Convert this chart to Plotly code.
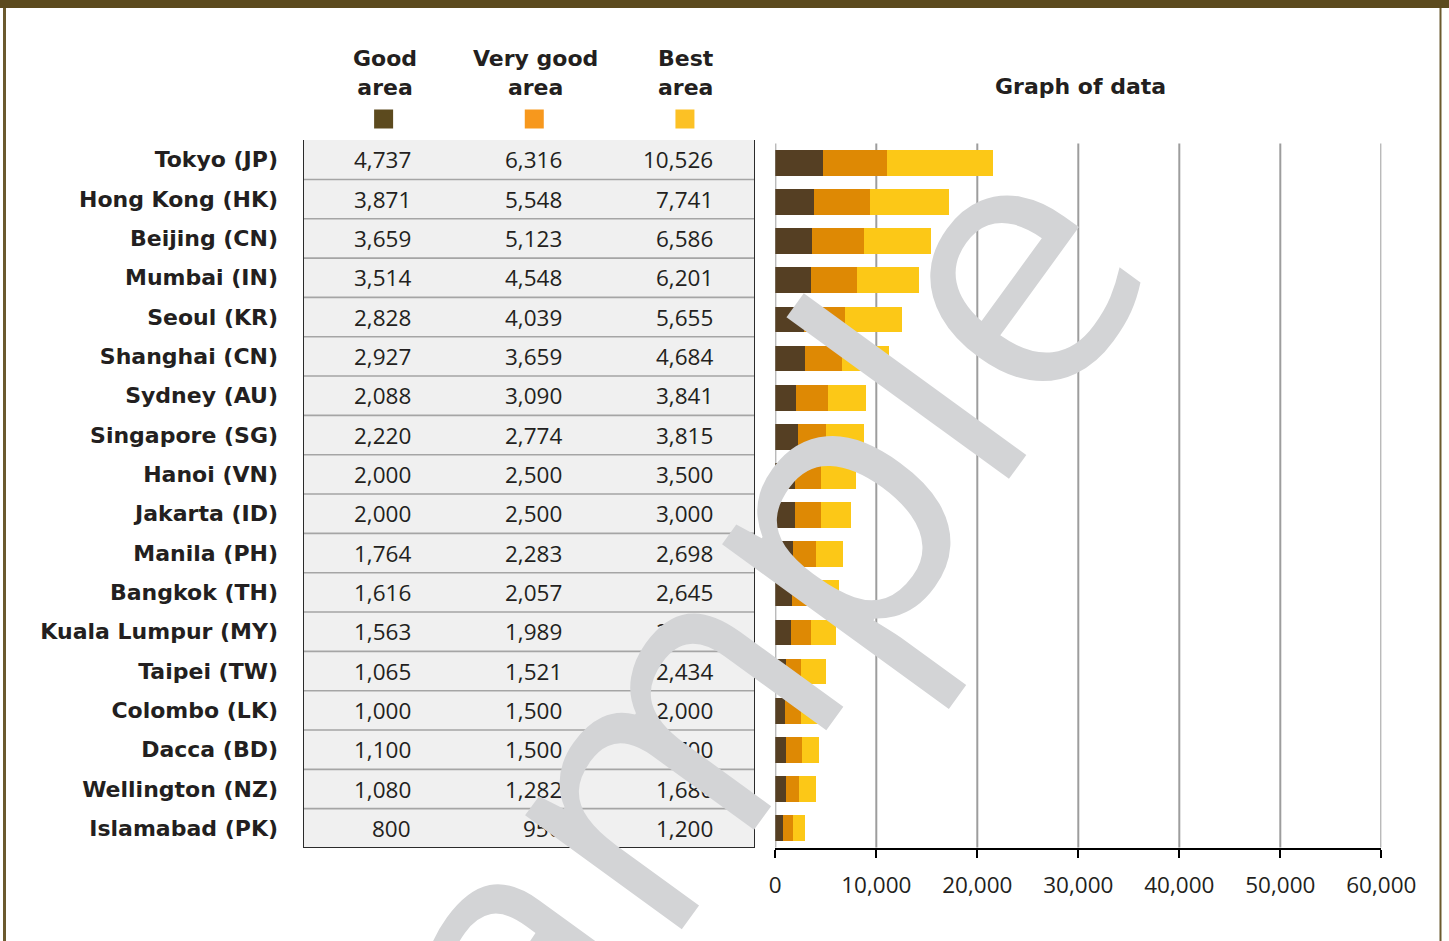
import plotly.graph_objects as go

W, H = 1449, 941

# ---------------- data ----------------
cities = ["Tokyo (JP)", "Hong Kong (HK)", "Beijing (CN)", "Mumbai (IN)", "Seoul (KR)",
          "Shanghai (CN)", "Sydney (AU)", "Singapore (SG)", "Hanoi (VN)", "Jakarta (ID)",
          "Manila (PH)", "Bangkok (TH)", "Kuala Lumpur (MY)", "Taipei (TW)", "Colombo (LK)",
          "Dacca (BD)", "Wellington (NZ)", "Islamabad (PK)"]
good_area = [4737, 3871, 3659, 3514, 2828, 2927, 2088, 2220, 2000, 2000,
             1764, 1616, 1563, 1065, 1000, 1100, 1080, 800]
very_good_area = [6316, 5548, 5123, 4548, 4039, 3659, 3090, 2774, 2500, 2500,
                  2283, 2057, 1989, 1521, 1500, 1500, 1282, 950]
best_area = [10526, 7741, 6586, 6201, 5655, 4684, 3841, 3815, 3500, 3000,
             2698, 2645, 2500, 2434, 2000, 1700, 1680, 1200]
series_labels = ["Good<br>area", "Very good<br>area", "Best<br>area"]
x_tick_values = [0, 10000, 20000, 30000, 40000, 50000, 60000]
chart_title = "Graph of data"
watermark = "Sample"

# ---------------- styles ----------------
bar_colors = ["#553f23", "#de8904", "#fcc817"]
key_colors = ["#5c4a1e", "#f7981d", "#fcc125"]
TXT = "#231f20"
FONT = "Open Sans"
BOLD = "DejaVu Sans"


def px(x):
    return x / W


def py(y):
    return 1 - y / H


series = [good_area, very_good_area, best_area]

fig = go.Figure()

# stacked bars
for vals, col, lab in zip(series, bar_colors, series_labels):
    fig.add_trace(go.Bar(
        x=vals, y=cities, orientation="h", name=lab.replace("<br>", " "),
        marker=dict(color=col, line=dict(width=0)),
        xaxis="x", yaxis="y2", showlegend=False, hoverinfo="x+y",
    ))

# invisible helper trace so the table axes carry the city categories
fig.add_trace(go.Scatter(
    x=[0] * len(cities), y=cities, xaxis="x2", yaxis="y", mode="markers",
    marker=dict(opacity=0), hoverinfo="skip", showlegend=False,
))

shapes = []
annotations = []

# frame
shapes.append(dict(type="rect", xref="paper", yref="paper", x0=0, x1=1,
                   y0=py(8), y1=1, fillcolor="#5c4a1e", line=dict(width=0)))
shapes.append(dict(type="rect", xref="paper", yref="paper", x0=px(3), x1=px(6),
                   y0=0, y1=py(8), fillcolor="#6b5a2e", line=dict(width=0)))
shapes.append(dict(type="rect", xref="paper", yref="paper", x0=px(1439.5), x1=px(1441.5),
                   y0=0, y1=py(8), fillcolor="#6b5a2e", line=dict(width=0)))

# vertical grid lines of the chart (under the bars)
for v in x_tick_values:
    shapes.append(dict(type="line", xref="x", yref="y2 domain", x0=v, x1=v, y0=0, y1=1,
                       line=dict(color="#9d9d9d", width=2), layer="below"))

# table
n = len(cities)
ncol = len(series)
top = -0.57
shapes.append(dict(type="rect", xref="x2", yref="y", x0=0, x1=ncol, y0=top, y1=n - 0.5,
                   fillcolor="#f0f0f0", line=dict(width=0), layer="below"))
for k in range(n - 1):
    shapes.append(dict(type="line", xref="x2", yref="y", x0=0, x1=ncol, y0=k + 0.5, y1=k + 0.5,
                       line=dict(color="#a5a5a5", width=1.6)))
shapes.append(dict(type="rect", xref="x2", yref="y", x0=0, x1=ncol, y0=top, y1=n - 0.5,
                   line=dict(color="#2b2b2b", width=2)))

# column headers and colour keys
for i, (lab, kc) in enumerate(zip(series_labels, key_colors)):
    shapes.append(dict(type="rect", xref="x2", xsizemode="pixel", xanchor=i + 0.535,
                       x0=-9.5, x1=9.5, yref="paper", y0=py(128.5), y1=py(109.5),
                       fillcolor=kc, line=dict(width=0)))
    annotations.append(dict(text=lab, xref="x2", x=i + 0.545, yref="paper", y=py(73),
                            xanchor="center", yanchor="middle", showarrow=False,
                            font=dict(family=BOLD, size=22, color=TXT, weight="bold")))

# table values
for i, vals in enumerate(series):
    for c, v in zip(cities, vals):
        annotations.append(dict(text=f"{v:,}", xref="x2", x=i + 0.733, yref="y", y=c,
                                xanchor="right", yanchor="middle", showarrow=False,
                                font=dict(family=FONT, size=22.5, color=TXT)))

# chart title
annotations.append(dict(text=chart_title, xref="paper", x=px(1080.5), yref="paper", y=py(86.5),
                        xanchor="center", yanchor="middle", showarrow=False,
                        font=dict(family=BOLD, size=22, color=TXT, weight="bold")))

# watermark
annotations.append(dict(text=watermark, xref="paper", x=px(682), yref="paper", y=py(689),
                        xanchor="center", yanchor="middle", showarrow=False, textangle=-54,
                        font=dict(family=FONT, size=362, color="#d3d4d6")))

fig.update_layout(
    width=W, height=H, autosize=False,
    margin=dict(l=0, r=0, t=0, b=0, autoexpand=False),
    paper_bgcolor="white", plot_bgcolor="white",
    barmode="stack", bargap=0.343,
    showlegend=False,
    xaxis=dict(domain=[px(775.3), px(1381.3)], range=[0, 60000], anchor="y2",
               automargin=False,
               tickvals=x_tick_values, tickformat=",d", ticks="outside", ticklen=8,
               tickwidth=2, tickcolor="black", showline=True, linewidth=2, linecolor="black",
               showgrid=False, zeroline=False,
               ticklabelstandoff=8,
               tickfont=dict(family=FONT, size=22.5, color=TXT)),
    yaxis2=dict(domain=[py(847.6), py(143.4)], type="category", categoryorder="array",
                categoryarray=cities, range=[n - 0.5, -0.5], anchor="x", automargin=False,
                showticklabels=False, showgrid=False, zeroline=False, showline=False),
    xaxis2=dict(domain=[px(303), px(755)], range=[0, ncol], anchor="y", visible=False,
                automargin=False),
    yaxis=dict(domain=[py(848.0), py(140.1)], type="category", categoryorder="array",
               categoryarray=cities, range=[n - 0.5, -0.5], anchor="x2", automargin=False,
               showgrid=False, zeroline=False, showline=False, ticks="",
               ticklabelstandoff=24,
               tickfont=dict(family=BOLD, size=22, color=TXT, weight="bold")),
    shapes=shapes,
    annotations=annotations,
)

fig.write_html(
    "out.html",
    config={"responsive": False, "displayModeBar": False},
    post_script="document.body.style.margin='0';document.body.style.overflow='hidden';",
)
